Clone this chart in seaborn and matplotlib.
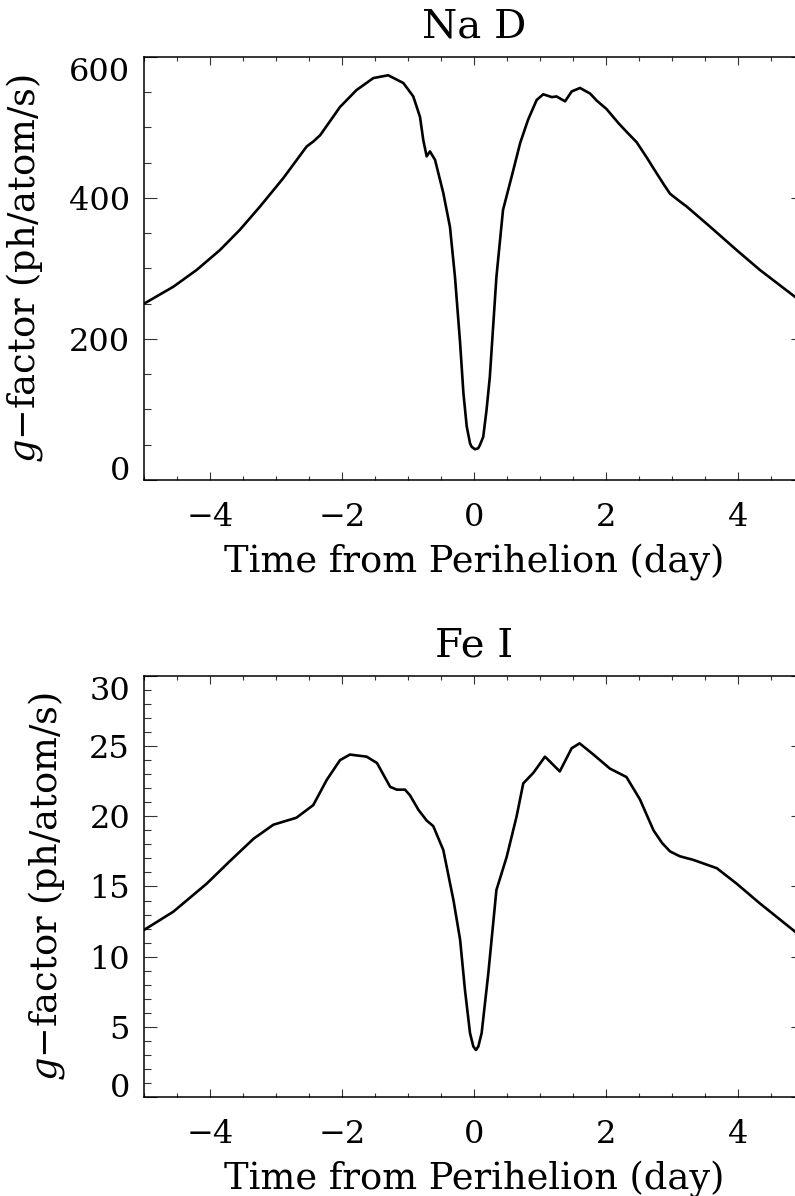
import numpy as np
import seaborn as sns
import matplotlib.pyplot as plt
from matplotlib.ticker import MultipleLocator

# g-factor curves
na_time = [-5.0, -4.556, -4.20, -3.85, -3.545, -3.24, -2.89, -2.535, -2.435, -2.33,
           -2.03, -1.78, -1.525, -1.30, -1.07, -0.92, -0.818, -0.768, -0.717, -0.667,
           -0.59, -0.465, -0.364, -0.288, -0.21, -0.16, -0.11, -0.06, -0.035, 0.015,
           0.065, 0.09, 0.14, 0.19, 0.24, 0.34, 0.44, 0.57, 0.70, 0.82,
           0.95, 1.05, 1.18, 1.25, 1.38, 1.48, 1.606, 1.76, 1.86, 2.01,
           2.19, 2.31, 2.465, 2.62, 2.72, 2.87, 2.97, 3.12, 3.22, 3.58,
           3.98, 4.33, 4.86, 5.0]
na_gfactor = [250, 274, 298, 326, 355, 388, 428, 473, 480, 489,
              529, 553, 570, 574, 563, 544, 515, 482, 459, 466,
              454, 407, 359, 288, 194, 123, 76, 52, 47, 43.5,
              45, 49.6, 61, 99, 146, 288, 383, 430, 478, 511,
              539, 547, 543, 544, 537, 551, 556, 548, 538, 526,
              506, 494, 479, 457, 442, 420, 406, 395, 388, 359,
              326, 298, 260, 251]

fe_time = [-5.0, -4.556, -4.05, -3.70, -3.34, -3.04, -2.69, -2.435, -2.23, -2.03,
           -1.88, -1.626, -1.47, -1.27, -1.17, -1.045, -0.97, -0.84, -0.717, -0.617,
           -0.465, -0.31, -0.21, -0.136, -0.06, -0.01, 0.03, 0.066, 0.116, 0.217,
           0.34, 0.495, 0.646, 0.747, 0.90, 1.076, 1.30, 1.48, 1.6, 1.81,
           2.06, 2.31, 2.515, 2.72, 2.85, 2.97, 3.12, 3.32, 3.68, 3.98,
           4.33, 4.86, 5.0]
fe_gfactor = [11.9, 13.2, 15.2, 16.8, 18.4, 19.4, 19.9, 20.8, 22.6, 24.0,
              24.4, 24.25, 23.8, 22.1, 21.9, 21.9, 21.5, 20.45, 19.7, 19.3,
              17.6, 14.0, 11.2, 7.6, 4.55, 3.6, 3.35, 3.6, 4.55, 8.8,
              14.75, 17.1, 20.0, 22.35, 23.1, 24.25, 23.2, 24.85, 25.2, 24.4,
              23.4, 22.8, 21.2, 19.0, 18.1, 17.5, 17.15, 16.9, 16.3, 15.2,
              13.8, 11.8, 11.2]

panels = [
    ("Na D", na_time, na_gfactor, (0, 600), 200, 50),
    ("Fe I", fe_time, fe_gfactor, (0, 30), 5, 1),
]

sns.set_theme(style="ticks")
plt.rcParams['font.family'] = ['DejaVu Serif']
plt.rcParams['mathtext.fontset'] = 'dejavuserif'
plt.rcParams['text.color'] = 'black'
plt.rcParams['axes.labelcolor'] = 'black'

fig = plt.figure(figsize=(7.95, 11.96), dpi=100)
axes_rects = [[0.1811, 0.5987, 0.8302, 0.3537],
              [0.1811, 0.0828, 0.8302, 0.3520]]
ylabel_x = [-0.15, -0.117]

for (title, t, g, ylim, major, minor), rect, lab_x in zip(panels, axes_rects, ylabel_x):
    ax = fig.add_axes(rect)
    sns.lineplot(x=np.array(t), y=np.array(g), ax=ax, color='black', linewidth=1.9,
                 estimator=None, sort=False, solid_joinstyle='round')

    ax.set_xlim(-5, 5)
    ax.set_ylim(*ylim)
    ax.xaxis.set_major_locator(MultipleLocator(2))
    ax.xaxis.set_minor_locator(MultipleLocator(0.5))
    ax.yaxis.set_major_locator(MultipleLocator(major))
    ax.yaxis.set_minor_locator(MultipleLocator(minor))

    ax.tick_params(axis='both', which='both', direction='in', top=True, right=True,
                   color='#333333', width=0.8, labelsize=23, labelcolor='black')
    ax.tick_params(axis='x', which='major', length=6, pad=16)
    ax.tick_params(axis='x', which='minor', length=3)
    ax.tick_params(axis='y', which='major', length=9.5, pad=10)
    ax.tick_params(axis='y', which='minor', length=5)
    for side in ax.spines.values():
        side.set_linewidth(1.1)
        side.set_color('black')

    ax.set_title(title, fontsize=29, pad=14)
    ax.set_xlabel("Time from Perihelion (day)", fontsize=26.5, labelpad=7)
    ax.set_ylabel("$g$\u2212factor (ph/atom/s)", fontsize=26.5)
    ax.yaxis.set_label_coords(lab_x, 0.5)

    fig.canvas.draw()
    for lbl in ax.get_yticklabels():
        pos = lbl.get_position()[1]
        if np.isclose(pos, ylim[1]):
            lbl.set_va('top')
        elif np.isclose(pos, ylim[0]):
            lbl.set_va('baseline')

plt.savefig("out.png", dpi=100)
plt.close(fig)
